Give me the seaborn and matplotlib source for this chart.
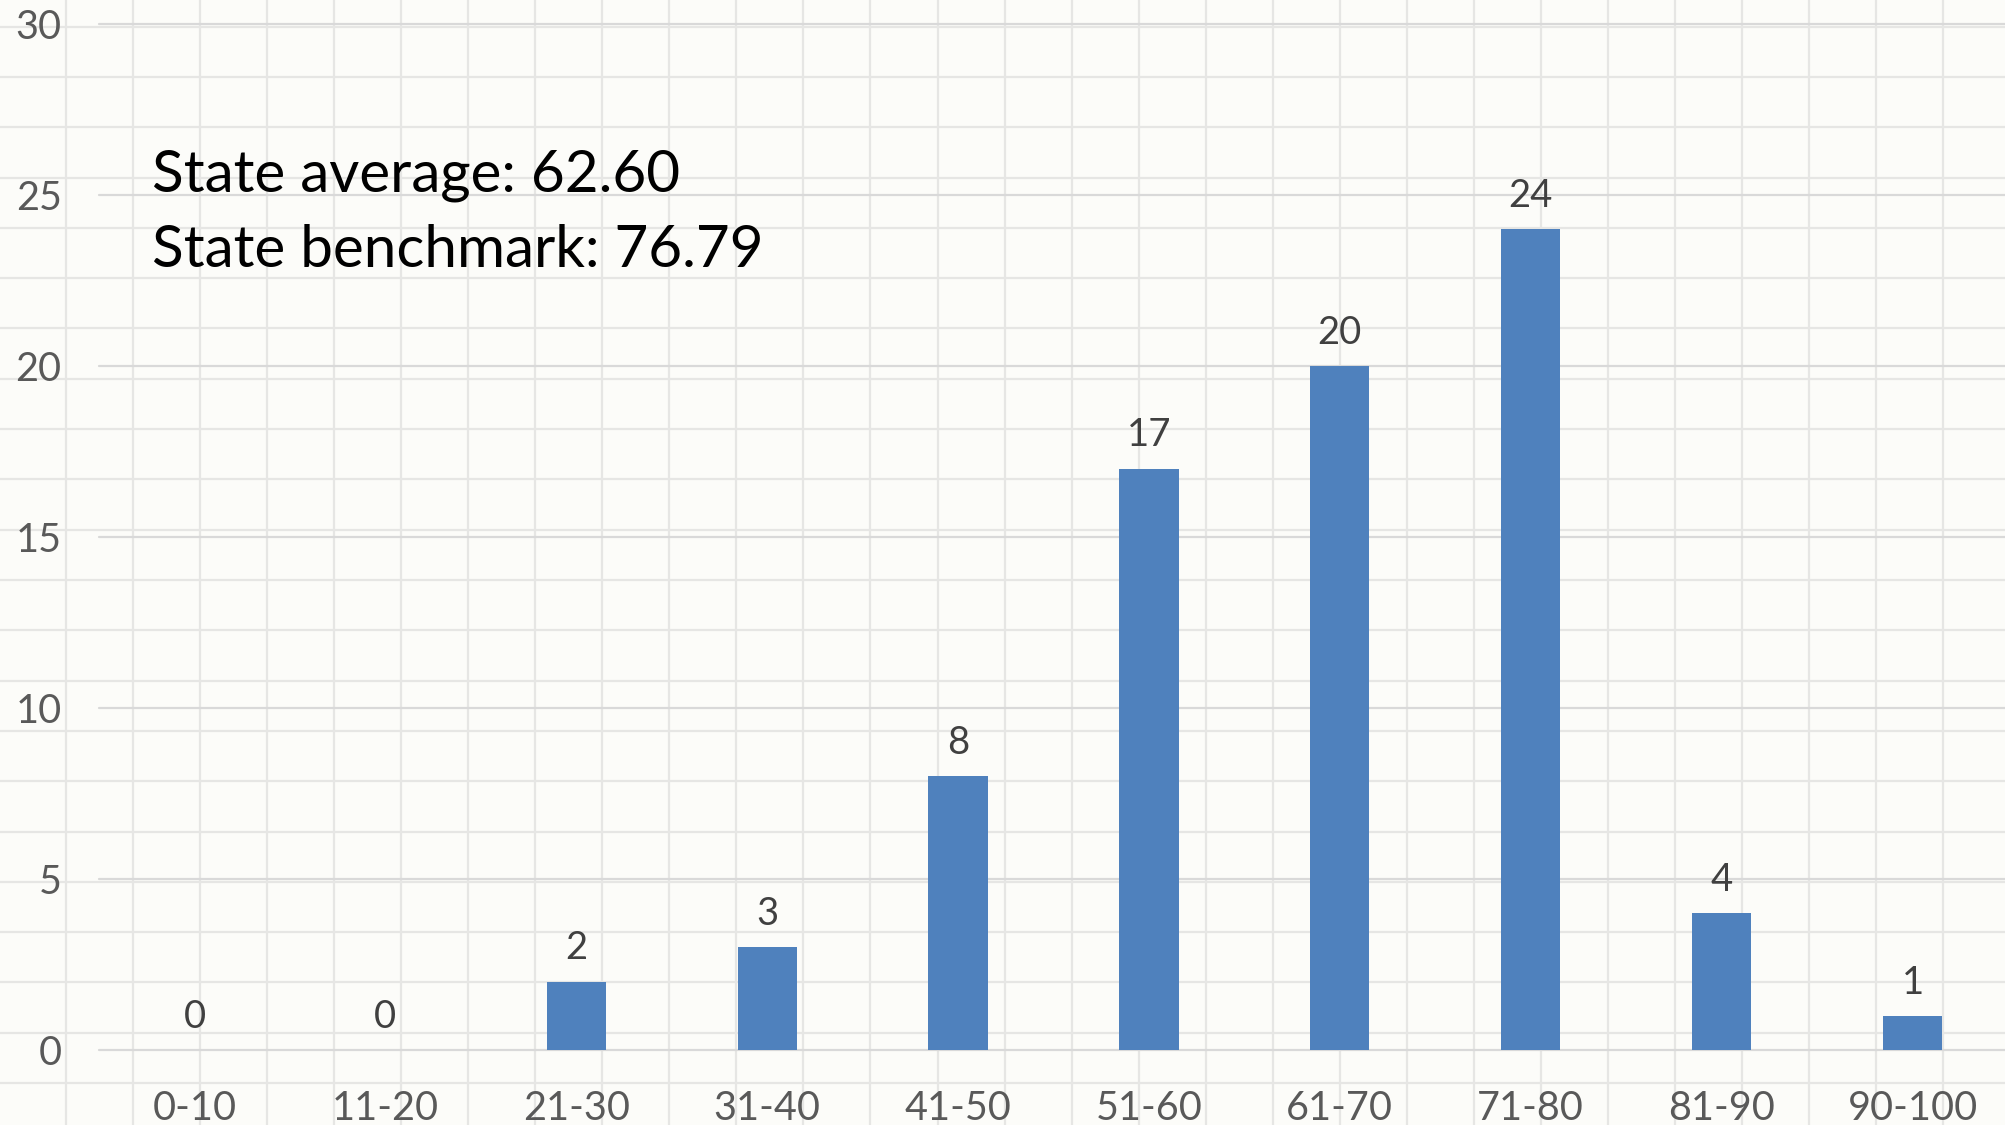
import numpy as np
import matplotlib
matplotlib.use("Agg")
import matplotlib.pyplot as plt
from matplotlib.lines import Line2D
import seaborn as sns

# Score bands and the number of schools in each
categories = ["0-10", "11-20", "21-30", "31-40", "41-50",
              "51-60", "61-70", "71-80", "81-90", "90-100"]
counts = [0, 0, 2, 3, 8, 17, 20, 24, 4, 1]
y_ticks = [0, 5, 10, 15, 20, 25, 30]
notes = ["State average: 62.60", "State benchmark: 76.79"]

BAR = "#4F81BD"
BG = "#FCFCF9"
GRID = "#D9D9D9"
CELL = "#E6E6E4"

sns.set_theme(style="white")
plt.rcParams["font.family"] = ["Lato", "DejaVu Sans"]

W, H = 2005, 1125
fig = plt.figure(figsize=(W / 100, H / 100), dpi=100, facecolor=BG)

# worksheet cell lines behind the chart
for x in np.arange(66, W, 67.04):
    fig.add_artist(Line2D([x / W, x / W], [0, 1], transform=fig.transFigure,
                          color=CELL, lw=1.6, zorder=-5))
for y in np.arange(26.7, H, 50.3):
    fig.add_artist(Line2D([0, 1], [1 - y / H, 1 - y / H], transform=fig.transFigure,
                          color=CELL, lw=1.6, zorder=-5))

ax = fig.add_axes([99 / W, 75 / H, 1909 / W, 1026 / H])
ax.set_facecolor("none")

sns.barplot(x=categories, y=counts, color=BAR, saturation=1, width=0.31,
            linewidth=0, ax=ax, zorder=3)

ax.set_xlim(-0.5, len(categories) - 0.5)
ax.set_ylim(0, 30)
ax.set_yticks(y_ticks)
ax.set_xlabel("")
ax.set_ylabel("")

ax.yaxis.grid(True, color=GRID, linewidth=1.6, zorder=0)
for gl in ax.get_ygridlines():
    gl.set_clip_on(False)
ax.xaxis.grid(False)
for side in ["top", "right", "left", "bottom"]:
    ax.spines[side].set_visible(False)

ax.tick_params(axis="y", length=0, pad=27, labelsize=28.5, labelcolor="#595959")
ax.tick_params(axis="x", length=0, pad=29, labelsize=28.5, labelcolor="#595959")

for i, v in enumerate(counts):
    ax.annotate(str(v), xy=(i, v), xytext=(0, 16), textcoords="offset points",
                ha="center", va="baseline", fontsize=27.5, color="#404040")

fig.text(152 / W, 1 - 192 / H, notes[0], fontsize=42, color="black",
         ha="left", va="baseline")
fig.text(152 / W, 1 - 267 / H, notes[1], fontsize=42, color="black",
         ha="left", va="baseline")

fig.savefig("out.png", dpi=100, facecolor=BG)
